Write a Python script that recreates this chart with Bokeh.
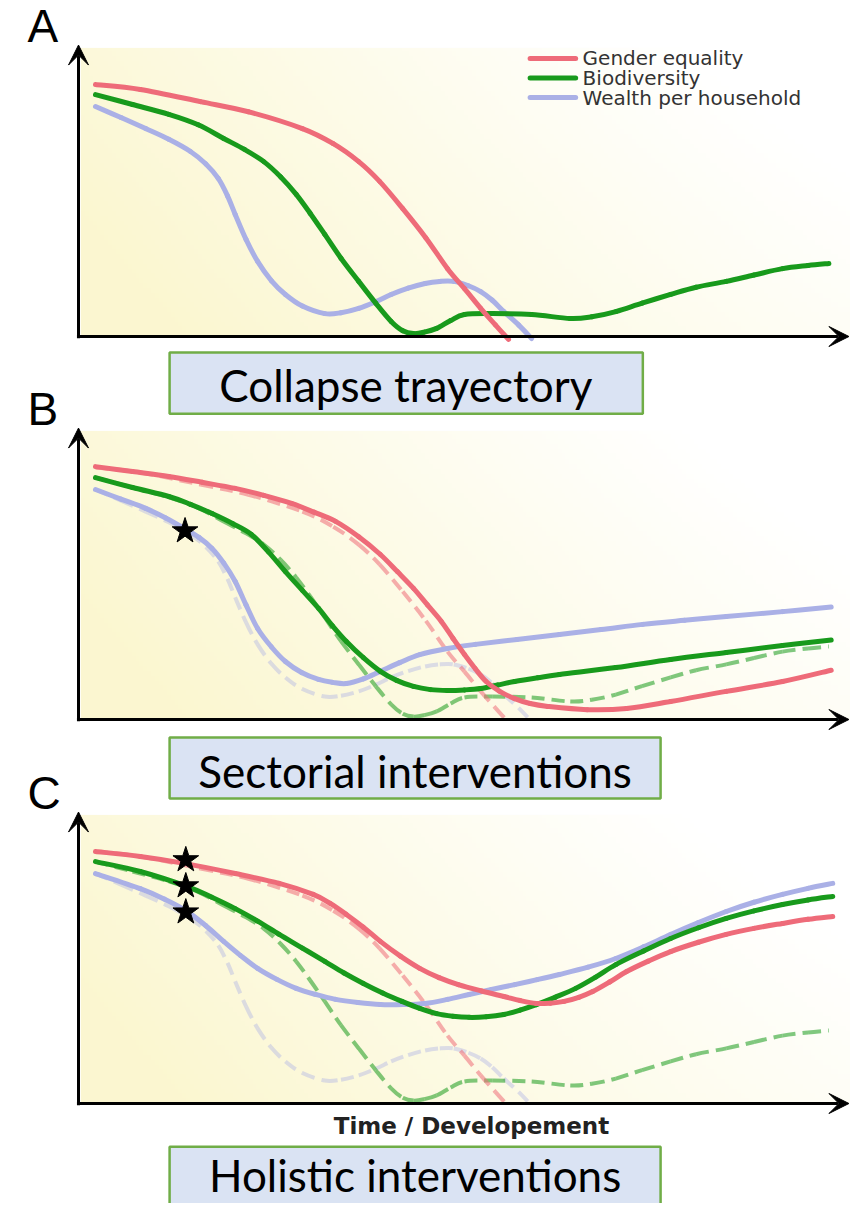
import numpy as np
from bokeh.plotting import figure
from bokeh.models import Range1d, Arrow, VeeHead, Label, ColumnDataSource
from bokeh.core.properties import value
from bokeh.embed import file_html
from bokeh.resources import INLINE

# ---------------- data ----------------
series_names = ["Gender equality", "Biodiversity", "Wealth per household"]
panel_letters = ["A", "B", "C"]
panel_titles = ["Collapse trayectory", "Sectorial interventions", "Holistic interventions"]
x_label = "Time / Developement"

# A: collapse trajectory (also drawn dashed in B and C)
collapse_gender_x = [2.2, 8, 15.8, 22, 29.0, 33, 36.3, 39, 42.0, 45, 47.8, 50, 52.1, 54, 55.7]
collapse_gender_y = [86.9, 85.2, 81.0, 77.5, 71.7, 66.5, 60.3, 53.5, 44.1, 34.0, 23.4, 16.5, 9.7, 4.0, -1.0]

collapse_bio_x = [2.2, 7, 11.7, 15.5, 18.8, 21.5, 24.0, 26.2, 28.2, 30.0, 31.9, 34, 36.3, 38.5, 40.5, 42,
                  43.4, 44.8, 46.4, 48.2, 50.0, 53.6, 58.7, 63.7, 66.5, 69.6, 73, 76.7, 80, 83.9, 87.5,
                  91.2, 94.5, 97.2]
collapse_bio_y = [83.4, 80.0, 76.6, 73.0, 68.3, 64.5, 60.3, 55.0, 49.0, 42.5, 35.2, 27.0, 19.0, 11.5, 5.2, 2.0,
                  1.0, 1.5, 2.8, 5.5, 7.6, 7.9, 7.6, 6.2, 6.8, 8.6, 11.5, 14.5, 17.0, 19.0, 21.2,
                  23.4, 24.5, 25.2]

collapse_wealth_x = [2.2, 5.5, 8.7, 11.7, 14.5, 16.5, 18.1, 19.3, 20.3, 21.7, 23.2, 25, 26.8, 29, 31.9, 34,
                     36.3, 38.5, 40.5, 42.7, 44.9, 46.8, 48.6, 50.5, 52.1, 53.6, 55.1, 57, 58.7]
collapse_wealth_y = [79.3, 75.5, 71.7, 68.0, 63.8, 59.5, 54.5, 48.5, 42.1, 33.5, 25.9, 19.2, 14.5, 10.5, 7.9, 8.2,
                     9.7, 12.0, 14.5, 16.7, 18.3, 19.0, 19.0, 17.5, 15.5, 12.5, 8.6, 4.0, -0.7]

# B: sectorial interventions
sector_gender_x = [2.2, 7, 11.7, 16, 20.3, 24, 27.6, 30.5, 33.3, 36.3, 39.1, 41.3, 43.4, 45.2, 47.0, 48.5,
                   50.0, 51.4, 52.8, 54.5, 56.5, 58.5, 60.8, 65.9, 71.0, 76.7, 83.9, 91.2, 97.5]
sector_gender_y = [87.2, 85.5, 83.8, 81.8, 79.7, 77.3, 74.5, 71.5, 68.3, 63.0, 56.9, 51.0, 45.2, 39.5, 33.8, 28.0,
                   22.4, 17.5, 13.1, 9.8, 7.2, 5.5, 4.5, 3.4, 3.8, 6.2, 9.7, 13.1, 17.0]

sector_bio_x = [2.2, 7, 11.7, 14.5, 17.3, 20, 22.4, 24.6, 26.8, 29, 31.1, 32.9, 34.7, 36.9, 39.1, 41.2,
                43.4, 45.6, 47.8, 50, 52.1, 54.3, 56.5, 59.5, 62.3, 69.6, 76.7, 83.9, 91.2, 97.5]
sector_bio_y = [83.4, 80.0, 76.9, 74.2, 71.0, 67.5, 63.8, 57.8, 51.0, 44.5, 38.3, 32.3, 26.9, 21.3, 16.6, 13.5,
                11.4, 10.3, 10.0, 10.2, 10.7, 11.9, 13.1, 14.4, 15.5, 17.9, 20.7, 23.1, 25.5, 27.4]

sector_wealth_x = [2.2, 5.5, 8.7, 11.3, 13.7, 15.6, 17.3, 18.8, 20.3, 21.7, 23.2, 25, 26.8, 28.9, 31.1, 32.9,
                   34.7, 36.9, 39.1, 41.6, 44.2, 47.8, 51.4, 56.8, 62.3, 67.7, 73.1, 78.5, 83.9, 91.2, 97.5]
sector_wealth_y = [79.3, 76.0, 72.8, 69.5, 65.9, 62.8, 59.0, 54.0, 47.6, 39.5, 31.4, 25.0, 20.0, 16.2, 13.8, 12.8,
                   12.4, 14.0, 16.6, 19.6, 22.4, 24.5, 25.9, 27.6, 29.3, 31.0, 32.8, 34.2, 35.5, 37.2, 38.8]

# C: holistic interventions
holistic_gender_x = [2.2, 8.0, 13.7, 20.3, 26.0, 30.4, 32.6, 34.7, 36.9, 39.1, 41.7, 44.2, 46.7, 49.2, 52.2, 55.1,
                     57.2, 59.3, 61.1, 62.9, 64.8, 66.6, 68.8, 71.0, 73.8, 76.7, 80.3, 83.9, 87.5, 91.2, 94.5, 97.7]
holistic_gender_y = [86.9, 85.2, 82.8, 79.3, 75.9, 72.1, 69.0, 65.2, 60.8, 55.9, 50.8, 46.6, 43.4, 41.0, 38.8, 36.9,
                     35.5, 34.5, 34.6, 35.2, 36.6, 38.6, 41.9, 45.5, 49.1, 52.4, 55.6, 58.3, 60.4, 62.1, 63.5, 64.5]

holistic_bio_x = [2.2, 8.0, 14.1, 17.2, 20.3, 23.2, 26.0, 29.0, 31.9, 34.4, 36.9, 39.4, 41.9, 44.2, 46.4, 48.5,
                  50.6, 52.8, 55.1, 57.2, 59.3, 61.8, 64.4, 67.0, 69.6, 73.2, 76.7, 80.3, 83.9, 87.5, 91.2, 94.5, 97.7]
holistic_bio_y = [83.4, 80.0, 74.8, 71.2, 67.2, 62.9, 58.3, 53.6, 49.0, 45.0, 41.4, 38.1, 35.2, 32.8, 31.0, 30.1,
                  29.7, 29.9, 30.7, 32.2, 34.1, 36.7, 39.7, 43.6, 47.9, 52.6, 56.9, 60.6, 63.8, 66.4, 68.6, 70.2, 71.4]

holistic_wealth_x = [2.2, 8.0, 11.1, 14.1, 16.5, 18.8, 21.0, 23.2, 25.7, 28.2, 30.7, 33.3, 36.2, 39.1, 42.0, 44.9,
                     47.8, 50.6, 53.5, 56.5, 59.4, 62.3, 66.0, 69.6, 73.2, 76.7, 80.3, 83.9, 87.5, 91.2, 94.5, 97.7]
holistic_wealth_y = [79.3, 74.1, 70.5, 66.2, 61.3, 55.9, 51.0, 46.6, 42.8, 39.7, 37.6, 35.9, 34.8, 34.1, 34.1, 34.5,
                     35.9, 37.6, 39.3, 41.0, 42.7, 44.5, 47.0, 50.0, 54.0, 58.3, 62.4, 66.2, 69.4, 72.1, 74.2, 75.9]

# intervention stars
sector_star_x = [13.8]
sector_star_y = [65.0]
holistic_star_x = [13.9, 13.9, 13.9]
holistic_star_y = [84.0, 75.0, 66.0]

# ---------------- layout / style ----------------
W, H = 850, 1203
PX_X, PX_Y = 7.72, 2.9          # pixels per data unit
X0 = 78                          # figure pixel column of x = 0
AXIS_ROW = {"A": 336, "B": 719, "C": 1103}   # figure pixel row of y = 0 per panel

COL = {"Gender equality": "#ee6b79", "Biodiversity": "#189a1c", "Wealth per household": "#aab0e6"}
DASH_ALPHA = {"Gender equality": 0.55, "Biodiversity": 0.55, "Wealth per household": 0.4}


def yrange(row):
    return Range1d(start=(row - H) / PX_Y, end=row / PX_Y)


def smooth_source(xs, ys):
    """Catmull-Rom curve through the read points, expressed as cubic Bezier segments."""
    P = np.column_stack([xs, ys]).astype(float)
    n = len(P)
    d = {k: [] for k in ["x0", "y0", "x1", "y1", "cx0", "cy0", "cx1", "cy1"]}
    for i in range(n - 1):
        p0 = P[i - 1] if i > 0 else P[i]
        p1, p2 = P[i], P[i + 1]
        p3 = P[i + 2] if i + 2 < n else P[i + 1]
        c0 = p1 + (p2 - p0) / 6.0
        c1 = p2 - (p3 - p1) / 6.0
        d["x0"].append(p1[0]); d["y0"].append(p1[1])
        d["x1"].append(p2[0]); d["y1"].append(p2[1])
        d["cx0"].append(c0[0]); d["cy0"].append(c0[1])
        d["cx1"].append(c1[0]); d["cy1"].append(c1[1])
    return ColumnDataSource(d)


p = figure(width=W, height=H, x_range=Range1d(-X0 / PX_X, (W - X0) / PX_X),
           y_range=yrange(AXIS_ROW["A"]), x_axis_type=None, y_axis_type=None,
           output_backend="svg", toolbar_location=None, min_border=0,
           outline_line_color=None, background_fill_color="white", border_fill_color="white")
p.extra_y_ranges = {"B": yrange(AXIS_ROW["B"]), "C": yrange(AXIS_ROW["C"])}
RN = {"A": "default", "B": "B", "C": "C"}

# background gradient (pale yellow on the left/bottom fading to white)
ny, nx = 60, 200
u = np.linspace(0, 1, nx)[None, :]
v = np.linspace(0, 1, ny)[:, None]
t = np.clip(0.95 * (1 - u) ** 1.2 + 0.35 * (1 - v) - 0.15, 0, 1) * 0.85
img = np.empty((ny, nx), dtype=np.uint32)
view = img.view(dtype=np.uint8).reshape((ny, nx, 4))
yellow = (250, 245, 200)
for k in range(3):
    view[:, :, k] = np.round(255 * (1 - t) + yellow[k] * t).astype(np.uint8)
view[:, :, 3] = 255

for L in panel_letters:
    p.image_rgba(image=[img], x=0.3, y=0, dw=101.0, dh=99.5, y_range_name=RN[L])

collapse = {"Gender equality": (collapse_gender_x, collapse_gender_y),
            "Biodiversity": (collapse_bio_x, collapse_bio_y),
            "Wealth per household": (collapse_wealth_x, collapse_wealth_y)}
sector = {"Gender equality": (sector_gender_x, sector_gender_y),
          "Biodiversity": (sector_bio_x, sector_bio_y),
          "Wealth per household": (sector_wealth_x, sector_wealth_y)}
holistic = {"Gender equality": (holistic_gender_x, holistic_gender_y),
            "Biodiversity": (holistic_bio_x, holistic_bio_y),
            "Wealth per household": (holistic_wealth_x, holistic_wealth_y)}

BZ = dict(x0="x0", y0="y0", x1="x1", y1="y1", cx0="cx0", cy0="cy0", cx1="cx1", cy1="cy1")

# dashed reference (collapse) curves in B and C
for L in ["B", "C"]:
    for name in ["Wealth per household", "Biodiversity", "Gender equality"]:
        xs, ys = collapse[name]
        p.bezier(source=smooth_source(xs, ys), **BZ, line_color=COL[name], line_alpha=DASH_ALPHA[name],
                 line_width=4, line_dash="13 7", y_range_name=RN[L])

for L, data in zip(panel_letters, [collapse, sector, holistic]):
    for name in ["Wealth per household", "Biodiversity", "Gender equality"]:
        xs, ys = data[name]
        p.bezier(source=smooth_source(xs, ys), **BZ, line_color=COL[name], line_width=5,
                 line_cap="round", y_range_name=RN[L])

p.scatter(sector_star_x, sector_star_y, marker="star", size=27, color="black", y_range_name="B")
p.scatter(holistic_star_x, holistic_star_y, marker="star", size=27, color="black", y_range_name="C")

# axes drawn as arrows
for L in panel_letters:
    p.add_layout(Arrow(end=VeeHead(size=20, fill_color="black", line_color="black"),
                       x_start=0, y_start=-0.6, x_end=0, y_end=100.5, line_width=3,
                       y_range_name=RN[L]))
    p.add_layout(Arrow(end=VeeHead(size=20, fill_color="black", line_color="black"),
                       x_start=-0.2, y_start=0, x_end=99.8, y_end=0, line_width=3,
                       y_range_name=RN[L]))
    p.add_layout(Label(x=-6.6, y=107.1, text=L, text_font="Liberation Sans",
                       text_font_size="46px", text_color="black", text_align="left",
                       text_baseline="middle", y_range_name=RN[L]))

# legend (panel A), drawn as short line samples and labels
leg_y = [95.9, 89.1, 82.4]
p.segment(x0=[58.5] * 3, x1=[64.4] * 3, y0=leg_y, y1=leg_y,
          line_color=[COL[n] for n in series_names], line_width=5, line_cap="round")
p.text(x=[65.3] * 3, y=leg_y, text=series_names, text_font=value("DejaVu Sans"),
       text_font_size="20px", text_color="#333333", text_baseline="middle", text_align="left")

# caption boxes
box_left = [11.8, 11.8, 11.8]
box_right = [73.1, 75.4, 75.4]
box_top = [-5.5, -6.2, -14.9]
box_bottom = [-26.6, -27.2, -50.0]
title_x = [42.4, 43.6, 43.6]
title_y = [-16.6, -17.9, -24.8]
for i, L in enumerate(panel_letters):
    p.quad(left=[box_left[i]], right=[box_right[i]], top=[box_top[i]], bottom=[box_bottom[i]],
           fill_color="#dae3f3", line_color="#70ad47", line_width=2.5, y_range_name=RN[L])
    p.add_layout(Label(x=title_x[i], y=title_y[i], text=panel_titles[i], text_font="Lato",
                       text_font_size="44px", text_color="black", text_align="center",
                       text_baseline="middle", y_range_name=RN[L]))

p.add_layout(Label(x=50.9, y=-7.9, text=x_label, text_font="DejaVu Sans", text_font_style="bold",
                   text_font_size="23px", text_color="#222222", text_align="center",
                   text_baseline="middle", y_range_name="C"))

open("out.html", "w").write(file_html(p, INLINE))
